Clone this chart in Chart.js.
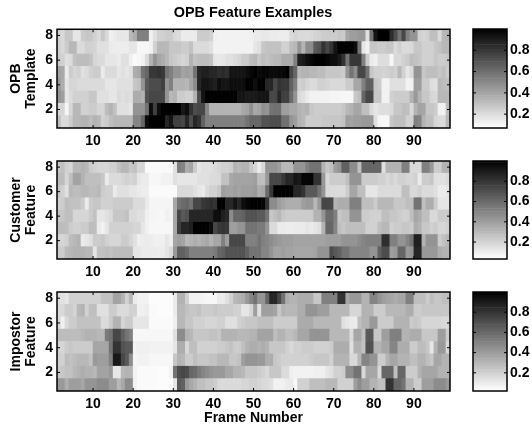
<!DOCTYPE html>
<html>
<head>
<meta charset="utf-8">
<title>OPB Feature Examples</title>
<script src="https://cdn.jsdelivr.net/npm/chart.js@4"></script>
<style>
    body { margin: 0; background: #fff; }
    canvas { position: absolute; left: 0; top: 0; }
</style>
</head>
<body>
<canvas id="template" width="532" height="428"></canvas>
<canvas id="customer" width="532" height="428"></canvas>
<canvas id="impostor" width="532" height="428"></canvas>
<canvas id="templateBar" width="532" height="428"></canvas>
<canvas id="customerBar" width="532" height="428"></canvas>
<canvas id="impostorBar" width="532" height="428"></canvas>
<script>
// tick labels
const frameTicks = [10, 20, 30, 40, 50, 60, 70, 80, 90];
const featureTicks = [2, 4, 6, 8];
const colorTicks = [0.2, 0.4, 0.6, 0.8];
const features = [1, 2, 3, 4, 5, 6, 7, 8];

// values, 98 frames per row, row 1 is the bottom one
const templateRow8 = [.18,.15,.22,.22,.1,.1,.2,.22,.22,.18, .14,.22,.15,.06,.08,.1,.1,.09,.28,.32, .5,.5,.5,.06,.12,.18,.18,.2,.2,.15, .14,.08,.08,.08,.08,.2,.2,.2,.18,.06, .05,.05,.05,.05,.05,.05,.05,.05,.06,.08, .08,.09,.09,.08,.08,.07,.07,.07,.14,.17, .15,.15,.14,.15,.17,.18,.2,.2,.2,.2, .22,.2,.35,.38,.38,.4,.4,.12,.55,.92, 1,1,1,.82,.7,.55,.72,.5,.42,.42, .18,.16,.18,.25,.25,.15,.28,.3];
const templateRow7 = [.18,.15,.2,.28,.28,.14,.14,.18,.18,.17, .12,.12,.12,.08,.07,.07,.07,.07,.1,.1, .03,.03,.03,.05,.18,.28,.28,.28,.22,.22, .22,.2,.2,.24,.14,.14,.14,.14,.12,.05, .05,.05,.05,.05,.05,.05,.05,.05,.05,.1, .12,.22,.24,.24,.24,.24,.18,.18,.26,.28, .42,.3,.45,.45,.65,.68,.8,.72,.8,.92, 1,1,1,1,.95,.55,.1,.05,.22,.22, .2,.2,.22,.22,.14,.18,.14,.14,.15,.22, .22,.18,.18,.18,.22,.24,.28,.28];
const templateRow6 = [.2,.18,.12,.14,.24,.26,.26,.26,.24,.16, .14,.14,.1,.1,.1,.08,.12,.12,.06,.02, .03,.05,.14,.3,.42,.35,.32,.28,.22,.2, .18,.16,.18,.3,.24,.26,.26,.26,.24,.1, .09,.1,.12,.12,.14,.16,.2,.2,.26,.28, .22,.26,.24,.26,.28,.28,.33,.33,.33,.5, .88,.9,.95,.97,1,1,1,.98,.95,.95, .9,.8,.55,.78,.78,.78,.5,.2,.08,.06, .13,.13,.13,.03,.15,.15,.18,.2,.26,.24, .22,.18,.18,.18,.22,.2,.2,.22];
const templateRow5 = [.36,.34,.08,.2,.16,.18,.12,.14,.18,.2, .2,.08,.14,.14,.14,.1,.12,.1,.12,.32, .34,.55,.6,.78,.78,.8,.78,.55,.5,.42, .42,.36,.38,.36,.55,.85,.88,.88,.85,.85, .82,.84,.82,.92,.92,.92,.92,.95,.98,1, .96,.98,.98,.96,.96,.97,.97,1,.72,.6, .28,.3,.3,.28,.28,.26,.26,.22,.22,.22, .22,.2,.42,.55,.45,.72,.72,.55,.22,.18, .18,.17,.18,.2,.18,.28,.18,.1,.14,.42, .42,.22,.25,.25,.25,.22,.25,.2];
const templateRow4 = [.4,.32,.1,.16,.16,.14,.14,.14,.14,.14, .14,.14,.1,.1,.1,.12,.12,.12,.12,.22, .24,.42,.65,.7,.7,.7,.75,.42,.5,.3, .3,.3,.28,.35,.45,.85,.92,.92,.9,.88, .95,.92,.92,.95,.95,.95,.95,1,1,.95, 1,1,.85,.85,.72,.8,.78,.78,.62,.5, .18,.2,.16,.14,.14,.18,.18,.17,.15,.15, .15,.15,.2,.2,.35,.35,.5,.62,.62,.22, .2,.05,.05,.12,.12,.12,.12,.05,.05,.38, .38,.2,.2,.13,.12,.28,.26,.25];
const templateRow3 = [.42,.38,.1,.14,.18,.18,.18,.18,.22,.22, .12,.12,.12,.1,.1,.14,.12,.14,.12,.32, .32,.3,.68,.72,.72,.72,.72,.42,.28,.3, .2,.2,.18,.18,.3,.7,.92,1,1,1, 1,1,1,1,1,.92,.92,.9,.9,.9, .92,.92,.92,.72,.72,.85,.75,.75,.58,.42, .14,.12,.08,.05,.05,.05,.05,.05,.04,.04, .04,.03,.03,.03,.22,.25,.6,.72,.72,.22, .22,.05,.05,.18,.2,.2,.2,.2,.3,.4, .3,.22,.22,.16,.15,.28,.28,.28];
const templateRow2 = [.15,.16,.04,.16,.28,.28,.18,.18,.2,.2, .16,.16,.26,.3,.24,.12,.12,.12,.1,.42, .42,.42,.55,.95,.75,.95,1,1,1,1, 1,.9,.95,.8,.7,.72,.72,.48,.3,.3, .3,.3,.3,.3,.3,.3,.34,.36,.44,.34, .36,.44,.42,.55,.56,.56,.38,.38,.34,.34, .3,.28,.3,.22,.2,.2,.2,.2,.2,.2, .2,.22,.28,.3,.35,.35,.25,.25,.14,.1, .12,.13,.13,.14,.22,.22,.25,.25,.15,.3, .36,.35,.22,.22,.2,.06,.05,.25];
const templateRow1 = [.25,.14,.14,.2,.28,.28,.3,.3,.26,.3, .28,.18,.2,.25,.28,.28,.28,.28,.28,.48, .48,.6,.95,1,1,1,1,.85,.92,.75, .75,.72,.85,.7,.85,.8,.62,.5,.5,.5, .5,.5,.5,.5,.5,.5,.5,.55,.6,.6, .6,.68,.68,.7,.7,.7,.56,.56,.42,.38, .3,.28,.2,.2,.2,.2,.22,.22,.22,.22, .22,.24,.38,.36,.38,.38,.4,.4,.4,.12, .04,.03,.03,.22,.25,.25,.25,.18,.18,.5, .48,.3,.25,.25,.16,.14,.14,.28];

const customerRow8 = [.22,.24,.18,.16,.28,.28,.3,.28,.2,.18, .16,.16,.16,.18,.18,.24,.28,.28,.22,.24, .16,.16,.02,.02,.02,.02,.02,.02,.02,.12, .5,.48,.32,.35,.2,.1,.12,.12,.12,.14, .16,.18,.18,.2,.3,.28,.3,.3,.22,.16, .08,.15,.42,.42,.42,.38,.28,.28,.28,.42, .42,.42,.5,.55,.55,.55,.3,.22,.25,.38, .42,.62,.62,.45,.45,.25,.6,.6,.6,.6, .6,.12,.3,.3,.3,.3,.5,.5,.15,.15, .15,.5,.5,.4,.2,.2,.3,.3];
const customerRow7 = [.26,.26,.16,.25,.36,.36,.3,.25,.25,.25, .25,.22,.08,.14,.14,.14,.16,.18,.16,.18, .1,.08,.08,.03,.03,.03,.05,.05,.05,.12, .1,.1,.1,.1,.1,.12,.12,.12,.14,.14, .15,.24,.24,.34,.36,.36,.36,.36,.36,.38, .26,.25,.4,.72,.72,.72,.78,.85,.85,.92, .9,.98,.98,.98,.8,.8,.4,.15,.2,.2, .2,.2,.25,.42,.42,.42,.2,.2,.2,.2, .18,.18,.15,.18,.15,.18,.18,.16,.16,.18, .08,.2,.2,.22,.12,.12,.12,.14];
const customerRow6 = [.22,.18,.12,.28,.26,.26,.28,.28,.26,.26, .28,.2,.18,.18,.08,.12,.12,.12,.1,.1, .08,.07,.07,.02,.02,.02,.02,.02,.02,.02, .15,.15,.15,.15,.12,.1,.08,.14,.18,.18, .22,.38,.36,.36,.38,.36,.38,.38,.38,.4, .32,.34,.58,.78,1,1,1,1,.98,.85, .85,.8,.65,.65,.65,.55,.42,.15,.14,.14, .14,.14,.2,.35,.35,.25,.25,.1,.1,.1, .14,.14,.14,.14,.14,.14,.25,.25,.15,.15, .18,.14,.14,.14,.12,.08,.08,.1];
const customerRow5 = [.18,.2,.26,.24,.24,.24,.2,.08,.2,.22, .22,.18,.18,.18,.2,.2,.2,.2,.2,.14, .14,.14,.08,.04,.04,.04,.04,.04,.04,.35, .55,.58,.6,.55,.72,.72,.78,.8,.82,.8, 1,1,.85,.85,.92,.85,.95,.98,1,1, 1,.98,.8,.45,.45,.38,.35,.32,.32,.32, .32,.38,.4,.4,.28,.4,.72,.72,.72,.3, .32,.32,.32,.5,.5,.5,.25,.25,.25,.2, .28,.28,.28,.28,.22,.22,.22,.25,.25,.55, .55,.25,.32,.32,.2,.1,.1,.1];
const customerRow4 = [.22,.22,.25,.25,.16,.16,.16,.16,.2,.24, .1,.1,.12,.14,.22,.22,.22,.24,.14,.14, .12,.12,.06,.04,.04,.03,.03,.06,.04,.35, .72,.65,.68,.85,.85,.85,.85,.85,.85,.95, .95,.88,.85,.45,.6,.6,.62,.68,.68,.68, .65,.65,.55,.22,.25,.28,.22,.2,.2,.2, .2,.2,.2,.2,.3,.3,.42,.58,.58,.5, .22,.25,.25,.42,.42,.42,.2,.2,.18,.18, .18,.25,.25,.22,.22,.2,.18,.18,.25,.35, .32,.25,.25,.15,.15,.2,.2,.2];
const customerRow3 = [.26,.26,.25,.2,.18,.18,.2,.2,.26,.25, .08,.05,.1,.18,.18,.18,.18,.18,.18,.16, .16,.1,.06,.03,.03,.03,.03,.03,.03,.35, .75,.85,.85,.88,1,1,1,1,.95,.72, .78,.8,.78,.38,.38,.42,.42,.55,.55,.55, .52,.52,.42,.14,.14,.08,.08,.07,.07,.08, .08,.08,.1,.08,.1,.12,.3,.6,.6,.48, .25,.22,.25,.25,.25,.25,.25,.18,.18,.18, .25,.28,.28,.18,.2,.2,.22,.22,.2,.32, .3,.22,.22,.18,.2,.16,.16,.18];
const customerRow2 = [.16,.16,.18,.26,.28,.3,.08,.1,.12,.2, .2,.22,.18,.16,.16,.16,.2,.2,.16,.12, .06,.07,.08,.07,.06,.06,.06,.1,.06,.35, .38,.36,.28,.3,.32,.3,.32,.34,.3,.35, .35,.5,.38,.72,.72,.72,.72,.5,.5,.5, .55,.5,.48,.45,.42,.4,.38,.38,.38,.36, .36,.36,.36,.36,.36,.36,.36,.38,.38,.38, .38,.42,.42,.42,.42,.45,.48,.5,.5,.5, .5,.82,.82,.5,.5,.42,.42,.48,.55,.88, .88,.3,.42,.42,.42,.2,.24,.28];
const customerRow1 = [.2,.2,.27,.28,.3,.3,.3,.28,.28,.1, .24,.24,.26,.24,.26,.26,.26,.26,.26,.1, .1,.08,.08,.08,.08,.07,.07,.1,.14,.4, .62,.62,.58,.5,.5,.5,.5,.5,.5,.52, .6,.62,.68,.68,.68,.68,.68,.62,.55,.55, .55,.48,.48,.42,.36,.36,.38,.36,.36,.35, .35,.35,.35,.35,.36,.42,.42,.42,.7,.65, .62,.55,.55,.48,.48,.48,.48,.48,.42,.42, .62,.7,.7,.38,.4,.6,.6,.4,.42,.85, .85,.4,.4,.4,.4,.32,.3,.3];

const impostorRow8 = [.12,.12,.1,.18,.18,.18,.18,.18,.18,.18, .18,.24,.24,.24,.36,.36,.3,.18,.28,.08, .05,.05,.05,.01,.01,.01,.01,.01,.01,.08, .3,.3,.18,.05,.05,.05,.04,.03,.03,.03, .08,.08,.12,.18,.28,.3,.32,.4,.48,.55, .42,.42,.6,.85,.85,.72,.55,.32,.3,.3, .32,.32,.32,.32,.22,.22,.5,.5,.5,.5, .8,.8,.35,.4,.4,.4,.3,.3,.48,.48, .42,.38,.36,.35,.32,.35,.35,.5,.5,.25, .25,.25,.2,.25,.22,.22,.25,.25];
const impostorRow7 = [.14,.15,.2,.2,.17,.28,.3,.18,.25,.25, .12,.12,.12,.2,.2,.14,.14,.14,.18,.18, .06,.06,.07,.02,.02,.01,.01,.01,.01,.08, .28,.28,.24,.22,.22,.24,.2,.2,.2,.22, .2,.2,.2,.2,.18,.18,.1,.1,.16,.38, .12,.38,.38,.38,.36,.22,.3,.28,.28,.28, .32,.32,.42,.42,.42,.38,.38,.38,.28,.28, .28,.28,.28,.16,.16,.16,.3,.3,.3,.2, .2,.2,.28,.28,.28,.28,.28,.32,.32,.2, .2,.22,.22,.22,.22,.22,.22,.22];
const impostorRow6 = [.14,.06,.15,.2,.2,.24,.24,.24,.24,.24, .24,.14,.14,.2,.3,.3,.16,.2,.2,.1, .1,.1,.1,.02,.02,.02,.02,.02,.02,.06, .28,.28,.22,.22,.18,.18,.18,.16,.16,.16, .18,.18,.12,.12,.12,.18,.2,.22,.22,.22, .25,.25,.25,.25,.2,.2,.2,.2,.2,.2, .33,.33,.33,.33,.28,.28,.28,.28,.28,.28, .28,.12,.1,.08,.08,.25,.3,.3,.4,.4, .2,.2,.2,.2,.3,.3,.3,.3,.2,.22, .2,.16,.16,.16,.16,.16,.15,.15];
const impostorRow5 = [.26,.26,.26,.26,.26,.26,.28,.3,.3,.3, .28,.28,.52,.55,.72,.72,.62,.55,.5,.03, .03,.03,.03,.03,.03,.03,.03,.03,.03,.12, .45,.45,.3,.28,.22,.22,.22,.22,.24,.24, .22,.3,.3,.3,.3,.28,.28,.28,.3,.3, .36,.36,.36,.36,.26,.3,.3,.25,.25,.28, .35,.35,.35,.42,.42,.42,.42,.42,.28,.28, .28,.28,.28,.14,.35,.35,.25,.65,.65,.22, .22,.38,.38,.5,.5,.5,.3,.3,.32,.32, .32,.22,.22,.22,.22,.38,.38,.2];
const impostorRow4 = [.16,.16,.2,.22,.2,.2,.2,.2,.2,.35, .35,.35,.35,.55,.8,.8,.68,.65,.65,.05, .06,.06,.06,.05,.05,.05,.05,.05,.05,.1, .32,.32,.15,.25,.25,.18,.18,.18,.18,.18, .2,.2,.22,.24,.2,.2,.25,.3,.32,.32, .3,.32,.3,.22,.22,.22,.22,.18,.15,.18, .18,.2,.2,.2,.18,.18,.18,.18,.2,.32, .32,.32,.32,.12,.3,.3,.24,.68,.68,.3, .3,.35,.35,.48,.48,.32,.32,.32,.2,.2, .26,.26,.22,.1,.3,.4,.4,.15];
const impostorRow3 = [.18,.18,.26,.24,.26,.28,.28,.28,.24,.4, .38,.38,.38,.5,.9,.9,.72,.65,.45,.04, .05,.05,.05,.03,.03,.03,.03,.03,.03,.22, .3,.28,.2,.2,.25,.22,.22,.22,.24,.24, .28,.28,.28,.22,.22,.24,.38,.42,.42,.42, .4,.4,.32,.32,.22,.2,.18,.18,.18,.18, .18,.18,.18,.2,.22,.22,.22,.22,.18,.3, .3,.3,.3,.15,.15,.28,.48,.48,.42,.42, .2,.2,.3,.35,.35,.3,.3,.3,.25,.25, .3,.3,.25,.22,.35,.35,.3,.3];
const impostorRow2 = [.2,.22,.24,.24,.28,.3,.32,.3,.3,.28, .36,.36,.36,.4,.1,.1,.28,.3,.3,.05, .02,.02,.02,.02,.02,.01,.01,.01,.05,.55, .7,.72,.7,.6,.58,.52,.48,.45,.42,.4, .4,.4,.35,.35,.3,.3,.28,.22,.22,.22, .2,.18,.15,.22,.22,.22,.14,.14,.06,.05, .05,.05,.05,.05,.06,.06,.06,.1,.12,.18, .18,.2,.45,.45,.55,.55,.15,.35,.35,.35, .15,.6,.6,.6,.25,.6,.6,.2,.2,.2, .3,.35,.35,.35,.35,.3,.3,.3];
const impostorRow1 = [.4,.4,.32,.38,.38,.38,.35,.42,.42,.42, .45,.45,.45,.38,.38,.28,.34,.45,.45,.05, .02,.02,.02,.02,.02,.01,.01,.01,.01,.1, .65,.62,.4,.34,.3,.25,.25,.22,.22,.2, .15,.14,.14,.14,.14,.14,.16,.16,.18,.18, .16,.15,.14,.12,.05,.05,.06,.08,.08,.03, .18,.18,.18,.25,.25,.25,.25,.28,.28,.28, .18,.18,.18,.18,.38,.45,.38,.38,.3,.3, .25,.25,.8,.8,.6,.6,.55,.3,.3,.2, .2,.38,.38,.38,.45,.45,.45,.4];

const templateRows = [templateRow1, templateRow2, templateRow3, templateRow4, templateRow5, templateRow6, templateRow7, templateRow8];
const customerRows = [customerRow1, customerRow2, customerRow3, customerRow4, customerRow5, customerRow6, customerRow7, customerRow8];
const impostorRows = [impostorRow1, impostorRow2, impostorRow3, impostorRow4, impostorRow5, impostorRow6, impostorRow7, impostorRow8];

const ink = "#000";
const boldFont = { family: "'Liberation Sans', Arial, sans-serif", size: 14, weight: "bold" };

function grayOf(v) {
    const level = Math.round(255 * (1 - Math.min(1, Math.max(0, v))));
    return `rgb(${level},${level},${level})`;
}

// frame and the small inward ticks, matlab style
const axesFrame = {
    id: "axesFrame",
    afterDatasetsDraw(chart) {
        const { ctx, chartArea: area, scales } = chart;
        ctx.save();
        ctx.strokeStyle = ink;
        ctx.lineWidth = 1;
        ctx.beginPath();
        scales.x.ticks.forEach(t => {
            const px = scales.x.getPixelForValue(t.value);
            ctx.moveTo(px, area.bottom);
            ctx.lineTo(px, area.bottom - 3);
            ctx.moveTo(px, area.top);
            ctx.lineTo(px, area.top + 3);
        });
        scales.y.ticks.forEach(t => {
            const py = scales.y.getPixelForValue(t.value);
            ctx.moveTo(area.left, py);
            ctx.lineTo(area.left + 3, py);
            ctx.moveTo(area.right, py);
            ctx.lineTo(area.right - 3, py);
        });
        ctx.stroke();
        ctx.lineWidth = 1.5;
        ctx.strokeRect(area.left, area.top, area.right - area.left, area.bottom - area.top);
        ctx.restore();
    }
};

// the title is centred over the plot area, not over the whole canvas box
const shiftTitle = {
    id: "shiftTitle",
    afterLayout(chart) {
        chart.titleBlock.left += 28;
        chart.titleBlock.right += 28;
    }
};

function heatmap(id, rows, yTitle, top, height, opts) {
    const datasets = rows.map((row, r) => ({
        data: row.map((v, f) => ({ x: f + 1.5, y: [features[r] - 0.5, features[r] + 0.5] })),
        backgroundColor: row.map(grayOf),
        borderWidth: 0,
        barPercentage: 1,
        categoryPercentage: 1,
        grouped: false
    }));
    const axisHeight = opts.xTitle ? 36 : 22;
    const titleBlock = opts.title ? 25 : 0;
    return new Chart(document.getElementById(id), {
        type: "bar",
        data: { datasets },
        plugins: opts.title ? [axesFrame, shiftTitle] : [axesFrame],
        options: {
            responsive: false,
            animation: false,
            layout: { padding: { left: 0, right: 82, top: top - titleBlock, bottom: 428 - top - height - axisHeight } },
            plugins: {
                legend: { display: false },
                tooltip: { enabled: false },
                title: {
                    display: !!opts.title,
                    text: opts.title,
                    color: ink,
                    font: { ...boldFont, size: 14.4 },
                    padding: { top: 0, bottom: 8 }
                }
            },
            scales: {
                x: {
                    type: "linear",
                    offset: false,
                    min: 1,
                    max: 99,
                    grid: { display: false, drawTicks: false },
                    border: { display: false },
                    afterBuildTicks: s => { s.ticks = frameTicks.map(v => ({ value: v })); },
                    afterFit: s => { s.height = axisHeight; },
                    ticks: { color: ink, font: boldFont, autoSkip: false, maxRotation: 0, minRotation: 0, padding: 5 },
                    title: { display: !!opts.xTitle, text: opts.xTitle, color: ink, font: boldFont, padding: 0 }
                },
                y: {
                    min: 0.5,
                    max: 8.5,
                    grid: { display: false, drawTicks: false },
                    border: { display: false },
                    afterBuildTicks: s => { s.ticks = featureTicks.map(v => ({ value: v })); },
                    afterFit: s => { s.width = 57; },
                    ticks: { color: ink, font: boldFont, padding: 4, callback: v => v },
                    title: { display: true, text: yTitle, color: ink, font: { ...boldFont, lineHeight: 1.1 }, padding: { top: 8.5, bottom: 0 } }
                }
            }
        }
    });
}

function colorbar(id, low, high, top, height) {
    const steps = 64;
    const datasets = [];
    for (let i = 0; i < steps; i++) {
        const from = low + (high - low) * i / steps;
        const to = low + (high - low) * (i + 1) / steps;
        datasets.push({
            data: [[from, to]],
            backgroundColor: grayOf((i + 0.5) / steps),
            borderWidth: 0,
            barPercentage: 1,
            categoryPercentage: 1,
            grouped: false
        });
    }
    return new Chart(document.getElementById(id), {
        type: "bar",
        data: { labels: ["c"], datasets },
        plugins: [axesFrame],
        options: {
            responsive: false,
            animation: false,
            layout: { padding: { left: 473, right: 0, top: top, bottom: 428 - top - height } },
            plugins: { legend: { display: false }, tooltip: { enabled: false } },
            scales: {
                x: { display: true, grid: { display: false, drawTicks: false }, border: { display: false }, ticks: { display: false }, afterBuildTicks: s => { s.ticks = []; }, afterFit: s => { s.height = 0; } },
                y: {
                    position: "right",
                    min: low,
                    max: high,
                    grid: { display: false, drawTicks: false },
                    border: { display: false },
                    afterBuildTicks: s => { s.ticks = colorTicks.map(v => ({ value: v })); },
                    afterFit: s => { s.width = 25; },
                    ticks: { color: ink, font: boldFont, padding: 3, callback: v => v.toFixed(1) }
                }
            }
        }
    });
}

heatmap("template", templateRows, ["OPB", "Template"], 29, 99, { title: "OPB Feature Examples" });
heatmap("customer", customerRows, ["Customer", "Feature"], 161, 98, {});
heatmap("impostor", impostorRows, ["Impostor", "Feature"], 292, 99, { xTitle: "Frame Number" });

colorbar("templateBar", 0.07, 1, 29, 99);
colorbar("customerBar", 0.033, 1, 161, 98);
colorbar("impostorBar", 0.02, 1, 292, 99);
</script>
</body>
</html>
